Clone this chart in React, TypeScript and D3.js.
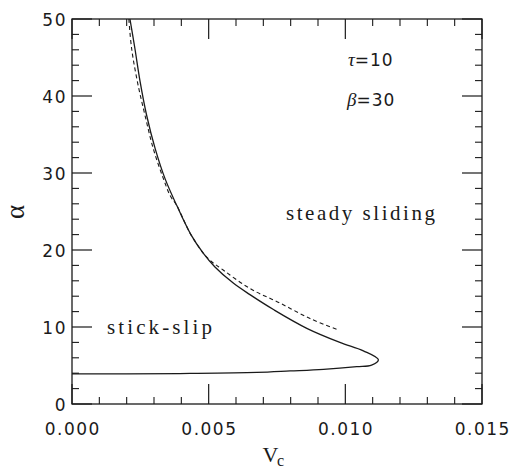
import React from "react";
import * as d3 from "d3";

const solidV = [0.00212, 0.0023, 0.00249, 0.00273, 0.00304, 0.0034, 0.00383, 0.00435, 0.0048, 0.00523, 0.0059, 0.00651, 0.0074, 0.00859, 0.0098, 0.01066, 0.01121, 0.01096, 0.01042, 0.0092, 0.00798, 0.00676, 0.00432, 0.002, 0.0];
const solidA = [50, 46.2, 41.9, 37.5, 33.2, 29.3, 25.8, 22.0, 19.6, 17.8, 15.7, 14.2, 12.2, 9.83, 8.0, 6.9, 5.75, 5.06, 4.85, 4.5, 4.29, 4.1, 3.97, 3.92, 3.9];

const dashV = [0.00208, 0.00218, 0.00239, 0.00267, 0.00297, 0.00334, 0.0036, 0.00383, 0.00435, 0.00495, 0.00553, 0.00651, 0.00761, 0.00871, 0.00968];
const dashA = [50, 46.2, 41.9, 37.5, 33.2, 29.3, 27.0, 25.8, 22.0, 19.0, 17.4, 15.0, 13.1, 11.1, 9.7];

const xMajorTicks = [0, 0.005, 0.01, 0.015];
const xTickLabels = ["0.000", "0.005", "0.010", "0.015"];
const xMinorTicks = [0.001, 0.002, 0.003, 0.004, 0.006, 0.007, 0.008, 0.009, 0.011, 0.012, 0.013, 0.014];
const yMajorTicks = [0, 10, 20, 30, 40, 50];
const yTickLabels = ["0", "10", "20", "30", "40", "50"];
const yMinorTicks = [2, 4, 6, 8, 12, 14, 16, 18, 22, 24, 26, 28, 32, 34, 36, 38, 42, 44, 46, 48];

const regionLabels = ["stick-slip", "steady sliding"];
const paramNames = ["τ", "β"];
const paramValues = ["=10", "=30"];

export default function App() {
  const L = 72, R = 482, T = 19, B = 404;
  const x = d3.scaleLinear().domain([0, 0.015]).range([L, R]);
  const y = d3.scaleLinear().domain([0, 50]).range([B, T]);
  const ink = "#1a1a1a";
  const line = d3
    .line<[number, number]>()
    .x((d) => x(d[0]))
    .y((d) => y(d[1]))
    .curve(d3.curveCatmullRom.alpha(0.5));
  const solidPts = solidV.map((v, i) => [v, solidA[i]] as [number, number]);
  const dashPts = dashV.map((v, i) => [v, dashA[i]] as [number, number]);
  const major = 20, minor = 7;
  const tickFont = { fontFamily: "DejaVu Sans, sans-serif", fontSize: 17, letterSpacing: 1.5, fill: ink };

  return (
    <svg width={511} height={471} style={{ position: "absolute", left: 0, top: 0, background: "#fff" }}>
      <rect x={0} y={0} width={511} height={471} fill="#fff" />
      <rect x={L} y={T} width={R - L} height={B - T} fill="none" stroke={ink} strokeWidth={1.3} />
      {xMajorTicks.map((t, i) => (
        <g key={"xM" + i}>
          <line x1={x(t)} x2={x(t)} y1={B} y2={B - major} stroke={ink} strokeWidth={1.2} />
          <line x1={x(t)} x2={x(t)} y1={T} y2={T + major} stroke={ink} strokeWidth={1.2} />
          <text x={x(t) + 0.75} y={435} textAnchor="middle" {...tickFont}>{xTickLabels[i]}</text>
        </g>
      ))}
      {xMinorTicks.map((t, i) => (
        <g key={"xm" + i}>
          <line x1={x(t)} x2={x(t)} y1={B} y2={B - minor} stroke={ink} strokeWidth={1.1} />
          <line x1={x(t)} x2={x(t)} y1={T} y2={T + minor} stroke={ink} strokeWidth={1.1} />
        </g>
      ))}
      {yMajorTicks.map((t, i) => (
        <g key={"yM" + i}>
          <line x1={L} x2={L + major} y1={y(t)} y2={y(t)} stroke={ink} strokeWidth={1.2} />
          <line x1={R} x2={R - major} y1={y(t)} y2={y(t)} stroke={ink} strokeWidth={1.2} />
          <text x={67} y={y(t) + 6.5} textAnchor="end" {...tickFont}>{yTickLabels[i]}</text>
        </g>
      ))}
      {yMinorTicks.map((t, i) => (
        <g key={"ym" + i}>
          <line x1={L} x2={L + minor} y1={y(t)} y2={y(t)} stroke={ink} strokeWidth={1.1} />
          <line x1={R} x2={R - minor} y1={y(t)} y2={y(t)} stroke={ink} strokeWidth={1.1} />
        </g>
      ))}
      <path d={line(solidPts) || ""} fill="none" stroke={ink} strokeWidth={1.3} strokeLinejoin="round" />
      <path d={line(dashPts) || ""} fill="none" stroke={ink} strokeWidth={1.1} strokeDasharray="4,3" />
      <text x={107} y={334} fontFamily="Liberation Serif, serif" fontSize={21} fill={ink} textLength={105} lengthAdjust="spacing">{regionLabels[0]}</text>
      <text x={286} y={220} fontFamily="Liberation Serif, serif" fontSize={21} fill={ink} textLength={149} lengthAdjust="spacing">{regionLabels[1]}</text>
      {paramNames.map((p, i) => (
        <text key={"p" + i} x={i === 0 ? 348 : 347} y={i === 0 ? 66 : 105.5} fill={ink} fontSize={17}>
          <tspan fontFamily="Liberation Serif, serif" fontStyle="italic" fontSize={19}>{p}</tspan>
          <tspan fontFamily="DejaVu Sans, sans-serif" letterSpacing={1}>{paramValues[i]}</tspan>
        </text>
      ))}
      <text x={262.5} y={462} fontFamily="Liberation Serif, serif" fontSize={22} fill={ink}>
        V
      </text>
      <text x={277} y={466} fontFamily="Liberation Serif, serif" fontSize={16} fill={ink}>
        c
      </text>
      <text transform="translate(24,212) rotate(-90)" textAnchor="middle" fontFamily="Liberation Serif, serif" fontSize={27} fill={ink}>
        α
      </text>
    </svg>
  );
}
